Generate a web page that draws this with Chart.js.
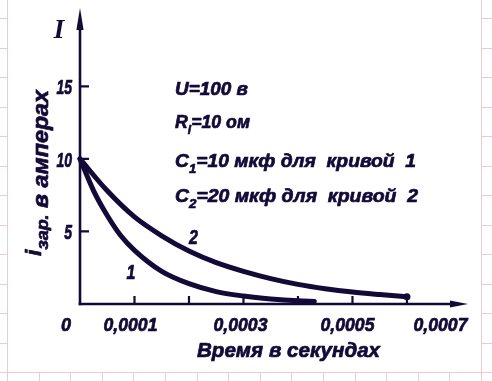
<!DOCTYPE html>
<html>
<head>
<meta charset="utf-8">
<script src="https://cdn.jsdelivr.net/npm/chart.js@4/dist/chart.umd.min.js"></script>
<style>
html,body{margin:0;padding:0;background:#fff;}
#wrap{width:492px;height:381px;position:relative;}
canvas{display:block;}
</style>
</head>
<body>
<div id="wrap"><canvas id="c" width="492" height="381"></canvas></div>
<script>
// ---- data (time in seconds, current in amperes) ----
const curve1Time    = [0, 0.000025, 0.00005, 0.000075, 0.0001, 0.00015, 0.0002, 0.00025, 0.0003, 0.00035, 0.0004, 0.00043];
const curve1Current = [10, 7.8, 6.1, 4.7, 3.7, 2.25, 1.4, 0.85, 0.55, 0.35, 0.22, 0.18];
const curve2Time    = [0, 0.00005, 0.0001, 0.00015, 0.0002, 0.00025, 0.0003, 0.00035, 0.0004, 0.00045, 0.0005, 0.00055, 0.0006];
const curve2Current = [10, 7.8, 6.0, 4.7, 3.65, 2.85, 2.25, 1.75, 1.35, 1.05, 0.82, 0.65, 0.5];

const xTickMarks  = [0.0001, 0.0002, 0.0003, 0.0004, 0.0005, 0.0006];
const xTickValues = [0.0001, 0.0003, 0.0005, 0.0007];
const xTickLabels = ['0,0001', '0,0003', '0,0005', '0,0007'];
const yTickValues = [5, 10, 15];
const yTickLabels = ['5', '10', '15'];
const originLabel = '0';
const yAxisSymbol = 'I';
const xTitle = 'Время в секундах';
const yTitleMain = 'i';
const yTitleSub = 'зар.';
const yTitleRest = ' в амперах';
const curveNames = ['1', '2'];
const curveNamePos = [[0.0000935, 2.2], [0.000208, 4.6]];   // data coords of the curve numbers
const noteLines = [
  [['U=100 в', 0]],
  [['R', 0], ['i', 1], ['=10 ом', 0]],
  [['C', 0], ['1', 1], ['=10 мкф для  кривой  1', 0]],
  [['C', 0], ['2', 1], ['=20 мкф для  кривой  2', 0]]
];

// ---- style ----
const INK = '#130a38';
const PAPER = '#e9cbd6';
const FAM = '"Liberation Sans", Arial, sans-serif';
const F = (s) => 'italic bold ' + s + 'px ' + FAM;

function drawRich(ctx, segs, x, y, opt) {
  let nat = 0;
  for (const s of segs) { ctx.font = s.font; nat += ctx.measureText(s.t).width; }
  const sx = opt.width ? opt.width / nat : (opt.scale || 1);
  const w = nat * sx;
  const left = opt.align === 'right' ? x - w : (opt.align === 'center' ? x - w / 2 : x);
  ctx.save();
  ctx.translate(left, y);
  ctx.scale(sx, 1);
  ctx.fillStyle = INK;
  ctx.strokeStyle = INK;
  ctx.lineWidth = 0.7;
  ctx.lineJoin = 'round';
  ctx.textAlign = 'left';
  ctx.textBaseline = 'alphabetic';
  let cx = 0;
  for (const s of segs) {
    ctx.font = s.font;
    ctx.fillText(s.t, cx, s.dy || 0);
    ctx.strokeText(s.t, cx, s.dy || 0);
    cx += ctx.measureText(s.t).width;
  }
  ctx.restore();
}

const paperPlugin = {
  id: 'paper',
  beforeDraw(chart) {
    const ctx = chart.ctx;
    ctx.save();
    ctx.fillStyle = '#fff';
    ctx.fillRect(0, 0, 492, 381);
    ctx.strokeStyle = PAPER;
    ctx.lineWidth = 1;
    ctx.beginPath();
    for (let k = 0; k < 14; k++) { const y = Math.round(18 + 29.5 * k) + 0.5; ctx.moveTo(0, y); ctx.lineTo(492, y); }
    for (let k = 0; k < 16; k++) { const x = Math.round(7 + 31.6 * k) + 0.5; ctx.moveTo(x, 0); ctx.lineTo(x, 381); }
    ctx.stroke();
    ctx.fillStyle = '#fff';
    ctx.fillRect(8, 0, 473, 372);
    ctx.restore();
  }
};

const axesPlugin = {
  id: 'axesDraw',
  beforeDatasetsDraw(chart) {
    const ctx = chart.ctx;
    const xs = chart.scales.x, ys = chart.scales.y, a = chart.chartArea;
    const x0 = xs.getPixelForValue(0), y0 = ys.getPixelForValue(0);
    ctx.save();
    ctx.strokeStyle = INK;
    ctx.fillStyle = INK;
    ctx.lineCap = 'butt';
    ctx.lineWidth = 2.6;
    // y axis
    ctx.beginPath(); ctx.moveTo(x0, y0 + 1.3); ctx.lineTo(x0, a.top + 12); ctx.stroke();
    ctx.beginPath(); ctx.moveTo(x0, a.top); ctx.lineTo(x0 - 3.6, a.top + 22); ctx.lineTo(x0 + 3.6, a.top + 22); ctx.closePath(); ctx.fill();
    // x axis
    ctx.beginPath(); ctx.moveTo(x0 - 1.3, y0); ctx.lineTo(a.right - 12, y0); ctx.stroke();
    ctx.beginPath(); ctx.moveTo(a.right, y0); ctx.lineTo(a.right - 18, y0 - 3.4); ctx.lineTo(a.right - 18, y0 + 3.4); ctx.closePath(); ctx.fill();
    // tick marks (inside)
    ctx.lineWidth = 2.2;
    ctx.beginPath();
    for (const v of xTickMarks) { const px = xs.getPixelForValue(v); ctx.moveTo(px, y0); ctx.lineTo(px, y0 - 8); }
    for (const v of yTickValues) { const py = ys.getPixelForValue(v); ctx.moveTo(x0, py); ctx.lineTo(x0 + 9, py); }
    ctx.stroke();
    ctx.restore();

    // tick labels
    yTickValues.forEach((v, i) => {
      drawRich(ctx, [{ t: yTickLabels[i], font: F(20) }], x0 - 8, ys.getPixelForValue(v) + 8, { align: 'right', scale: 0.7 });
    });
    const xLabelShift = [-4, -3, -5, -21];
    xTickValues.forEach((v, i) => {
      drawRich(ctx, [{ t: xTickLabels[i], font: F(19) }], xs.getPixelForValue(v) + xLabelShift[i], y0 + 27, { align: 'center', width: 54 });
    });
    drawRich(ctx, [{ t: originLabel, font: F(19) }], x0 - 14, y0 + 27, { align: 'center', scale: 0.95 });

    // axis titles
    drawRich(ctx, [{ t: xTitle, font: F(20) }], 197, 357, { width: 183 });
    ctx.save();
    ctx.translate(48, 256);
    ctx.rotate(-Math.PI / 2);
    drawRich(ctx, [
      { t: yTitleMain, font: F(22), dy: -7 },
      { t: yTitleSub, font: F(17) },
      { t: yTitleRest, font: F(22) }
    ], 0, 0, { width: 166 });
    ctx.restore();
    ctx.save();
    ctx.fillStyle = INK;
    ctx.font = 'italic bold 27px "Liberation Serif", serif';
    ctx.textAlign = 'center';
    ctx.textBaseline = 'alphabetic';
    ctx.fillText(yAxisSymbol, 59, 38);
    ctx.restore();

    // curve numbers
    curveNames.forEach((n, i) => {
      const p = curveNamePos[i];
      drawRich(ctx, [{ t: n, font: F(20) }], xs.getPixelForValue(p[0]), ys.getPixelForValue(p[1]) + 7, { align: 'center', scale: 0.8 });
    });

    // parameter notes
    const baselines = [95, 128, 167, 202];
    const widths = [73, 75, 241, 243];
    noteLines.forEach((line, i) => {
      const segs = line.map(([t, sub]) => sub ? { t: t, font: F(13), dy: 6 } : { t: t, font: F(19) });
      drawRich(ctx, segs, 175, baselines[i], { width: widths[i] });
    });
  }
};

const toXY = (ts, vs) => ts.map((t, i) => ({ x: t, y: vs[i] }));

new Chart(document.getElementById('c'), {
  type: 'scatter',
  data: {
    datasets: [
      {
        label: 'C1 = 10 мкф',
        data: toXY(curve1Time, curve1Current),
        showLine: true,
        borderColor: INK,
        backgroundColor: INK,
        borderWidth: 5,
        pointRadius: 0,
        cubicInterpolationMode: 'monotone',
        borderCapStyle: 'round',
        clip: false
      },
      {
        label: 'C2 = 20 мкф',
        data: toXY(curve2Time, curve2Current),
        showLine: true,
        borderColor: INK,
        backgroundColor: INK,
        borderWidth: 5,
        pointRadius: (c) => (c.dataIndex === curve2Time.length - 1 ? 3.5 : 0),
        pointBorderWidth: 0,
        cubicInterpolationMode: 'monotone',
        borderCapStyle: 'round',
        clip: false
      }
    ]
  },
  options: {
    responsive: false,
    animation: false,
    devicePixelRatio: 1,
    layout: { padding: { left: 80, right: 24, top: 8, bottom: 77 } },
    scales: {
      x: { type: 'linear', min: 0, max: 0.000712, display: false },
      y: { type: 'linear', min: 0, max: 20.4, display: false }
    },
    plugins: { legend: { display: false }, tooltip: { enabled: false } }
  },
  plugins: [paperPlugin, axesPlugin]
});
</script>
</body>
</html>
